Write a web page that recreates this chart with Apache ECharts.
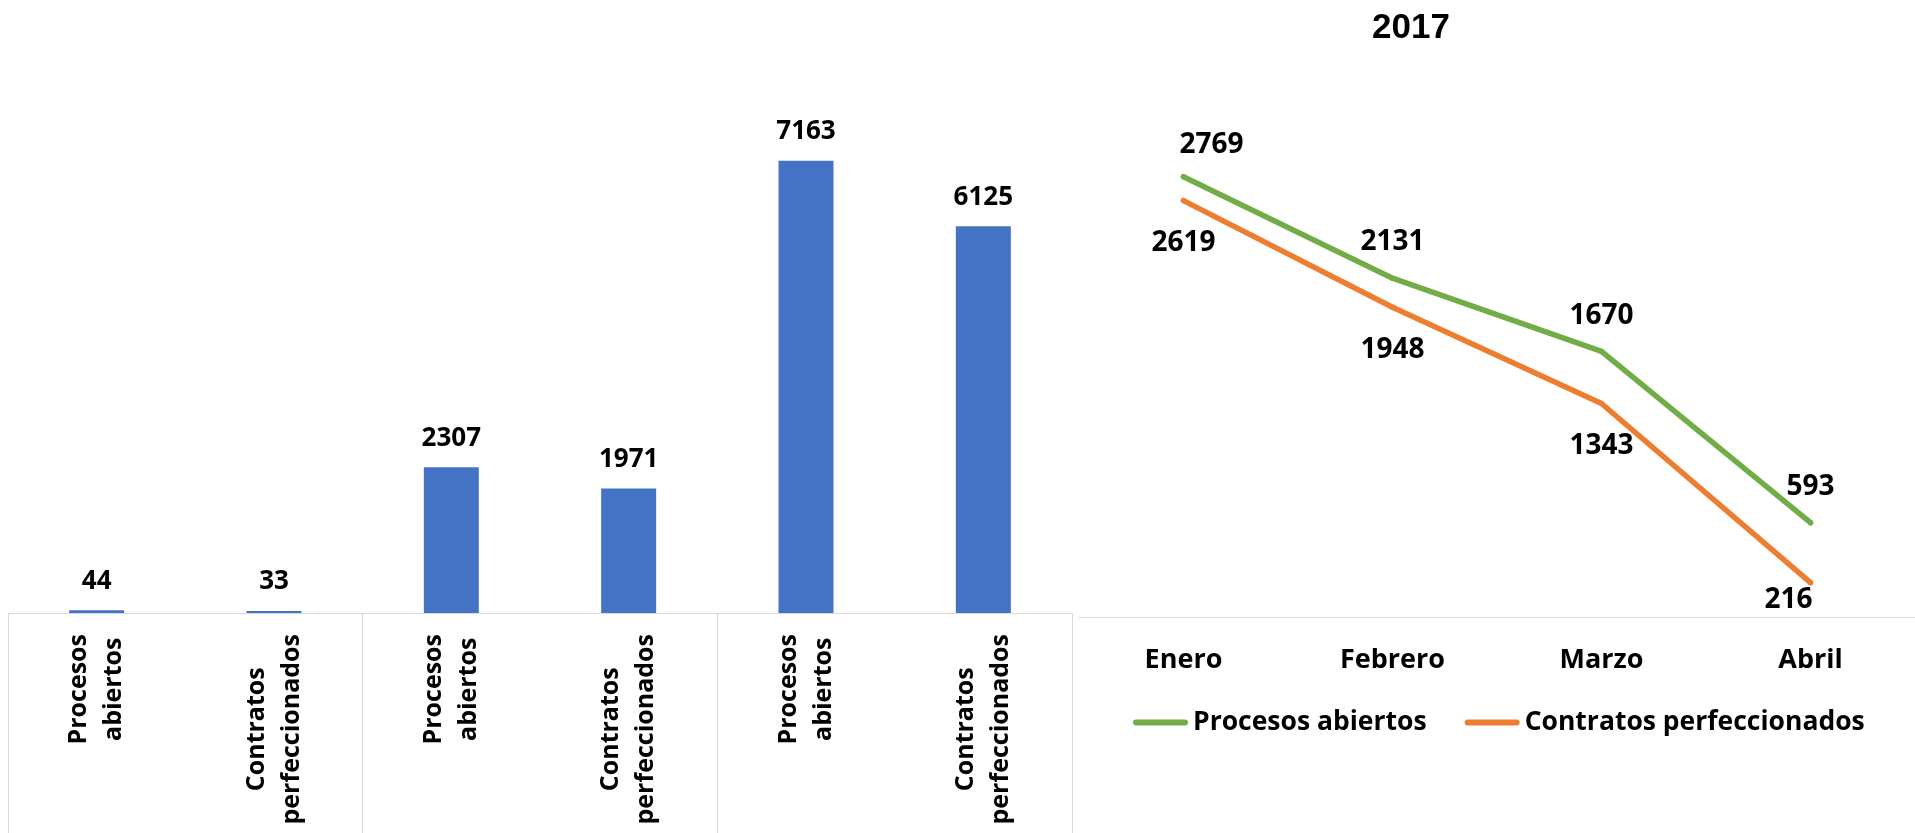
<!DOCTYPE html>
<html><head><meta charset="utf-8">
<script src="https://cdn.jsdelivr.net/npm/echarts@6/dist/echarts.min.js"></script>
<style>html,body{margin:0;padding:0;background:#fff}#c{width:1915px;height:833px}</style>
</head><body><div id="c"></div>
<script>
// ---- data ----
const barCategories = ['Procesos abiertos', 'Contratos perfeccionados', 'Procesos abiertos', 'Contratos perfeccionados', 'Procesos abiertos', 'Contratos perfeccionados'];
const barValues = [44, 33, 2307, 1971, 7163, 6125];
const barGroups = ['Grupo 1', 'Grupo 2', 'Grupo 3'];
const months = ['Enero', 'Febrero', 'Marzo', 'Abril'];
const procesosAbiertos = [2769, 2131, 1670, 593];
const contratosPerfeccionados = [2619, 1948, 1343, 216];
const seriesNames = ['Procesos abiertos', 'Contratos perfeccionados'];
const lineTitle = '2017';

// ---- styles ----
const FONT = '"Open Sans"';
const GREEN = '#70AD47', ORANGE = '#ED7D31', BLUE = '#4472C4', AXIS = '#D9D9D9';

const chart = echarts.init(document.getElementById('c'), null, {renderer: 'canvas'});

const greenData = procesosAbiertos.map((v, i) => i === 0 ? {value: v, label: {offset: [28, 4]}} : v);
const orangeData = contratosPerfeccionados.map((v, i) => i === 3 ? {value: v, label: {offset: [-22, -25]}} : v);

const lineLabel = {show: true, fontFamily: FONT, fontWeight: 'bold', fontSize: 28, color: '#000'};

chart.setOption({
  animation: false,
  backgroundColor: '#fff',
  graphic: [{
    type: 'text', x: 1411, y: 28,
    style: {text: lineTitle, font: 'bold 35px "Liberation Sans"', fill: '#000', align: 'center', verticalAlign: 'middle', textAlign: 'center', textVerticalAlign: 'middle'}
  }],
  grid: [
    {left: 8, top: 108, width: 1064, height: 505},
    {left: 1079, top: 140, width: 840, height: 477}
  ],
  xAxis: [
    {
      gridIndex: 0, type: 'category', data: barCategories, position: 'bottom',
      axisLine: {lineStyle: {color: AXIS, width: 1}},
      axisTick: {show: false},
      axisLabel: {
        interval: 0, rotate: 90, margin: 21,
        formatter: function (v) {
          return v.split(' ').map(s => '{a|' + s + '}').join('\n');
        },
        rich: {a: {align: 'center', fontFamily: FONT, fontWeight: 'bold', fontSize: 25, lineHeight: 35, color: '#000'}}
      }
    },
    {
      gridIndex: 0, type: 'category', data: barGroups, position: 'bottom',
      axisLine: {show: false},
      axisTick: {show: true, interval: 0, length: 230, lineStyle: {color: AXIS, width: 1}},
      axisLabel: {show: false}
    },
    {
      gridIndex: 1, type: 'category', data: months, position: 'bottom',
      axisLine: {lineStyle: {color: AXIS, width: 1}},
      axisTick: {show: false},
      axisLabel: {margin: 30, fontFamily: FONT, fontWeight: 'bold', fontSize: 27, color: '#000'}
    }
  ],
  yAxis: [
    {gridIndex: 0, type: 'value', min: 0, max: 8000, show: false, splitLine: {show: false}},
    {gridIndex: 1, type: 'value', min: 0, max: 3000, show: false, splitLine: {show: false}}
  ],
  legend: {
    data: seriesNames,
    left: 1128, top: 704,
    itemWidth: 55, itemHeight: 6, itemGap: 38,
    icon: 'path://M3,0 L52,0 A3,3 0 0 1 52,6 L3,6 A3,3 0 0 1 3,0 Z',
    textStyle: {fontFamily: FONT, fontWeight: 'bold', fontSize: 26.5, color: '#000'}
  },
  series: [
    {
      type: 'bar', xAxisIndex: 0, yAxisIndex: 0, data: barValues, barWidth: 55,
      itemStyle: {color: BLUE},
      label: {show: true, position: 'top', distance: 16, fontFamily: FONT, fontWeight: 'bold', fontSize: 26, color: '#000'}
    },
    {
      type: 'line', name: seriesNames[0], xAxisIndex: 2, yAxisIndex: 1, data: greenData,
      symbol: 'circle', symbolSize: 5.5, showSymbol: true,
      itemStyle: {color: GREEN},
      lineStyle: {color: GREEN, width: 5.5, cap: 'round', join: 'round'},
      label: Object.assign({position: 'top', distance: 19}, lineLabel)
    },
    {
      type: 'line', name: seriesNames[1], xAxisIndex: 2, yAxisIndex: 1, data: orangeData,
      symbol: 'circle', symbolSize: 5.5, showSymbol: true,
      itemStyle: {color: ORANGE},
      lineStyle: {color: ORANGE, width: 5.5, cap: 'round', join: 'round'},
      label: Object.assign({position: 'bottom', distance: 26}, lineLabel)
    }
  ]
});
</script>
</body></html>
